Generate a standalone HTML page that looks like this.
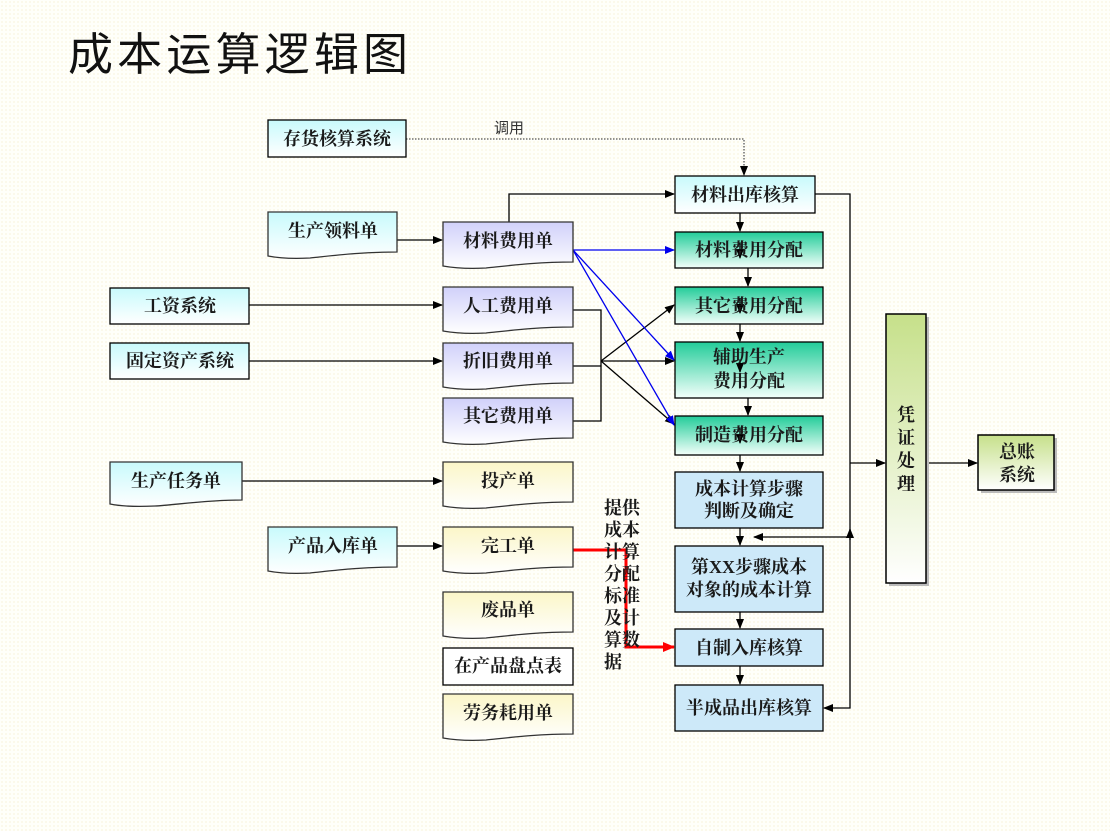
<!DOCTYPE html>
<html><head><meta charset="utf-8"><style>
html,body{margin:0;padding:0;}
body{width:1110px;height:831px;overflow:hidden;background-color:#fffffa;
background-image:radial-gradient(circle,#f2eac4 0.6px,transparent 0.8px);background-size:4px 4px;}
svg{position:absolute;left:0;top:0;}
.t{font-family:"Liberation Serif","Noto Serif CJK SC",serif;font-weight:bold;font-size:18px;fill:#1a1a1a;text-anchor:middle;}
</style></head><body>
<svg width="1110" height="831" xmlns="http://www.w3.org/2000/svg">
<defs>
<linearGradient id="cy" x1="0" y1="0" x2="0" y2="1"><stop offset="0" stop-color="#c8fafc"/><stop offset="1" stop-color="#ffffff"/></linearGradient>
<linearGradient id="lv" x1="0" y1="0" x2="0" y2="1"><stop offset="0" stop-color="#d0d0fa"/><stop offset="1" stop-color="#ffffff"/></linearGradient>
<linearGradient id="yl" x1="0" y1="0" x2="0" y2="1"><stop offset="0" stop-color="#fbf6c8"/><stop offset="1" stop-color="#ffffff"/></linearGradient>
<linearGradient id="gr" x1="0" y1="0" x2="0" y2="1"><stop offset="0" stop-color="#22cc99"/><stop offset="1" stop-color="#f4fffb"/></linearGradient>
<linearGradient id="lg" x1="0" y1="0" x2="0" y2="1"><stop offset="0" stop-color="#c6e08a"/><stop offset="1" stop-color="#ffffff"/></linearGradient>
<marker id="a" markerWidth="10" markerHeight="8" refX="9" refY="4" orient="auto" markerUnits="userSpaceOnUse"><path d="M0,0 L10,4 L0,8z" fill="#000"/></marker>
<marker id="ab" markerWidth="10" markerHeight="8" refX="9" refY="4" orient="auto" markerUnits="userSpaceOnUse"><path d="M0,0 L10,4 L0,8z" fill="#0000ee"/></marker>
<marker id="ar" markerWidth="12" markerHeight="10" refX="11" refY="5" orient="auto" markerUnits="userSpaceOnUse"><path d="M0,0 L12,5 L0,10z" fill="#ff0000"/></marker>
</defs>

<text x="68" y="70" font-family="'Liberation Sans','Noto Sans CJK SC',sans-serif" font-size="45" textLength="340" fill="#111">成本运算逻辑图</text>

<g stroke="#000" stroke-width="1.3" fill="none">
<path d="M406,139 H744 V175" stroke-dasharray="1.5,1.5" stroke="#555" marker-end="url(#a)"/>
<path d="M509,222 V194 H674" marker-end="url(#a)"/>
<path d="M397,240 H442" marker-end="url(#a)"/>
<path d="M249,305 H442" marker-end="url(#a)"/>
<path d="M249,361 H442" marker-end="url(#a)"/>
<path d="M242,481 H442" marker-end="url(#a)"/>
<path d="M397,546 H442" marker-end="url(#a)"/>
<path d="M573,310 H601 V421 H573"/>
<path d="M573,366 H601"/>
<path d="M601,361 L674,305" marker-end="url(#a)"/>
<path d="M601,361 H674" marker-end="url(#a)"/>
<path d="M601,361 L674,424" marker-end="url(#a)"/>
<path d="M740,213 V231" marker-end="url(#a)"/>
<path d="M748,268 V286" marker-end="url(#a)"/>
<path d="M740,324 V341" marker-end="url(#a)"/>
<path d="M748,398 V415" marker-end="url(#a)"/>
<path d="M740,455 V471" marker-end="url(#a)"/>
<path d="M740,528 V545" marker-end="url(#a)"/>
<path d="M850,537 H754" marker-end="url(#a)"/>
<path d="M740,612 V628" marker-end="url(#a)"/>
<path d="M740,666 V684" marker-end="url(#a)"/>
<path d="M815,194 H850 V708 H824" marker-end="url(#a)"/>
<path d="M850,540 V529" marker-end="url(#a)"/>
<path d="M850,463 H885" marker-end="url(#a)"/>
<path d="M926,463 H977" marker-end="url(#a)"/>
</g>
<g stroke="#0000ee" stroke-width="1.3" fill="none">
<path d="M573,250 H674" marker-end="url(#ab)"/>
<path d="M573,250 L674,360" marker-end="url(#ab)"/>
<path d="M573,250 L674,425" marker-end="url(#ab)"/>
</g>
<path d="M573,550 H626 V647 H674" stroke="#ff0000" stroke-width="3" fill="none" marker-end="url(#ar)"/>

<g fill="#bbb">
<rect x="889" y="317" width="40" height="269"/>
<rect x="981" y="438" width="76" height="55"/>
</g>

<g stroke="#000" stroke-width="1.3">
<rect x="268" y="120" width="138" height="37" fill="url(#cy)"/>
<rect x="110" y="288" width="139" height="36" fill="url(#cy)"/>
<rect x="110" y="343" width="139" height="36" fill="url(#cy)"/>
<rect x="675" y="176" width="140" height="37" fill="url(#cy)"/>
<rect x="675" y="232" width="148" height="36" fill="url(#gr)"/>
<rect x="675" y="287" width="148" height="37" fill="url(#gr)"/>
<rect x="675" y="342" width="148" height="56" fill="url(#gr)"/>
<rect x="675" y="416" width="148" height="39" fill="url(#gr)"/>
<rect x="675" y="472" width="148" height="56" fill="#cde9f9"/>
<rect x="675" y="546" width="148" height="66" fill="#cde9f9"/>
<rect x="675" y="629" width="148" height="37" fill="#cde9f9"/>
<rect x="675" y="685" width="148" height="46" fill="#cde9f9"/>
<rect x="443" y="648" width="130" height="37" fill="#fff"/>
<rect x="886" y="314" width="40" height="269" fill="url(#lg)" stroke-width="1.5"/>
<rect x="978" y="435" width="76" height="55" fill="url(#lg)" stroke-width="1.5"/>
</g>

<g stroke="#333" stroke-width="1.3">
<path d="M268,212 H397 V252 C360,252 330,256 310,258 C290,259 278,258 268,256 Z" fill="url(#cy)"/>
<path d="M110,462 H242 V500 C205,500 175,505 155,506 C135,507 120,506 110,504 Z" fill="url(#cy)"/>
<path d="M268,527 H397 V567 C360,567 330,571 310,573 C290,574 278,573 268,571 Z" fill="url(#cy)"/>
<path d="M443,222 H573 V262 C536,262 506,266 486,268 C466,269 454,268 443,266 Z" fill="url(#lv)"/>
<path d="M443,287 H573 V327 C536,327 506,331 486,333 C466,334 454,333 443,331 Z" fill="url(#lv)"/>
<path d="M443,343 H573 V383 C536,383 506,387 486,389 C466,390 454,389 443,387 Z" fill="url(#lv)"/>
<path d="M443,398 H573 V438 C536,438 506,442 486,444 C466,445 454,444 443,442 Z" fill="url(#lv)"/>
<path d="M443,462 H573 V502 C536,502 506,506 486,508 C466,509 454,508 443,506 Z" fill="url(#yl)"/>
<path d="M443,527 H573 V567 C536,567 506,571 486,573 C466,574 454,573 443,571 Z" fill="url(#yl)"/>
<path d="M443,592 H573 V632 C536,632 506,636 486,638 C466,639 454,638 443,636 Z" fill="url(#yl)"/>
<path d="M443,694 H573 V734 C536,734 506,738 486,740 C466,741 454,740 443,738 Z" fill="url(#yl)"/>
</g>

<g stroke="#000" stroke-width="1.3" fill="none">
<path d="M740,243 V258" marker-end="url(#a)"/>
<path d="M740,298 V313" marker-end="url(#a)"/>
<path d="M740,360 V372" marker-end="url(#a)"/>
<path d="M740,428 V443" marker-end="url(#a)"/>
</g>

<text x="509" y="133" font-family="'Liberation Sans','Noto Sans CJK SC',sans-serif" font-size="15" fill="#333" text-anchor="middle">调用</text>

<g class="t">
<text x="337" y="145">存货核算系统</text>
<text x="333" y="237">生产领料单</text>
<text x="180" y="312">工资系统</text>
<text x="180" y="367">固定资产系统</text>
<text x="176" y="487">生产任务单</text>
<text x="333" y="552">产品入库单</text>
<text x="508" y="247">材料费用单</text>
<text x="508" y="312">人工费用单</text>
<text x="508" y="367">折旧费用单</text>
<text x="508" y="422">其它费用单</text>
<text x="508" y="487">投产单</text>
<text x="508" y="552">完工单</text>
<text x="508" y="616">废品单</text>
<text x="508" y="672">在产品盘点表</text>
<text x="508" y="719">劳务耗用单</text>
<text x="745" y="201">材料出库核算</text>
<text x="749" y="256">材料费用分配</text>
<text x="749" y="312">其它费用分配</text>
<text x="749" y="363">辅助生产</text>
<text x="749" y="387">费用分配</text>
<text x="749" y="441">制造费用分配</text>
<text x="749" y="495">成本计算步骤</text>
<text x="749" y="517">判断及确定</text>
<text x="749" y="573">第XX步骤成本</text>
<text x="749" y="596">对象的成本计算</text>
<text x="749" y="654">自制入库核算</text>
<text x="749" y="714">半成品出库核算</text>
<text x="906" y="421">凭</text>
<text x="906" y="444">证</text>
<text x="906" y="467">处</text>
<text x="906" y="490">理</text>
<text x="1017" y="458">总账</text>
<text x="1017" y="481">系统</text>
</g>
<g class="t" style="text-anchor:start">
<text x="604" y="514">提供</text>
<text x="604" y="536">成本</text>
<text x="604" y="558">计算</text>
<text x="604" y="580">分配</text>
<text x="604" y="602">标准</text>
<text x="604" y="624">及计</text>
<text x="604" y="646">算数</text>
<text x="604" y="668">据</text>
</g>
</svg>
</body></html>
